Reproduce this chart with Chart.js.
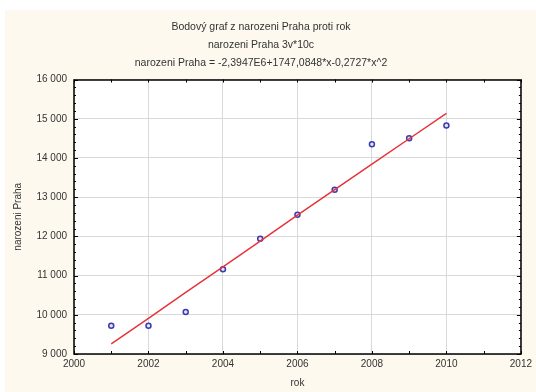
<!DOCTYPE html>
<html>
<head>
<meta charset="utf-8">
<script src="https://cdn.jsdelivr.net/npm/chart.js@4/dist/chart.umd.min.js"></script>
<style>
  html, body { margin: 0; padding: 0; background: #ffffff; }
  #wrap { width: 536px; height: 392px; }
</style>
</head>
<body>
<div id="wrap"><canvas id="chart" width="536" height="392"></canvas></div>
<script>
// data
const years = [2001, 2002, 2003, 2004, 2005, 2006, 2007, 2008, 2009, 2010];
const births = [9720, 9720, 10070, 11160, 11940, 12550, 13190, 14350, 14500, 14830];
const fitValues = [9256, 9910, 10570, 11220, 11880, 12540, 13190, 13840, 14490, 15135];

const titleLines = [
  "Bodový graf z narozeni Praha proti rok",
  "narozeni Praha 3v*10c",
  "narozeni Praha = -2,3947E6+1747,0848*x-0,2727*x^2"
];
const xLabel = "rok";
const yLabel = "narozeni Praha";

const FONT = "'Liberation Sans', Arial, sans-serif";
const CREAM = "#fdf9ee";

// pozadí: bílý okraj nahoře a vlevo, zbytek krémový
const background = {
  id: "background",
  beforeDraw(chart) {
    const c = chart.ctx;
    c.save();
    c.fillStyle = "#ffffff";
    c.fillRect(0, 0, chart.width, chart.height);
    c.fillStyle = CREAM;
    c.fillRect(5, 10, chart.width - 5, chart.height - 10);
    // bílá plocha grafu
    const a = chart.chartArea;
    c.fillStyle = "#ffffff";
    c.fillRect(a.left, a.top, a.right - a.left, a.bottom - a.top);
    c.restore();
  }
};

// rámeček + drobné značky dovnitř
const frame = {
  id: "frame",
  afterDatasetsDraw(chart) {
    const { ctx: c, chartArea: a, scales } = chart;
    const xs = scales.x, ys = scales.y;
    c.save();
    c.strokeStyle = "#000";
    c.lineWidth = 1;
    c.beginPath();
    for (let v = xs.min; v <= xs.max; v += 1) {
      const px = Math.round(xs.getPixelForValue(v)) + 0.5;
      c.moveTo(px, a.bottom); c.lineTo(px, a.bottom - 3);
      c.moveTo(px, a.top); c.lineTo(px, a.top + 3);
    }
    for (let v = ys.min; v <= ys.max; v += 200) {
      const py = Math.round(ys.getPixelForValue(v)) + 0.5;
      const len = v % 1000 === 0 ? 4 : 2;
      c.moveTo(a.left, py); c.lineTo(a.left + len, py);
      c.moveTo(a.right, py); c.lineTo(a.right - len, py);
    }
    c.stroke();
    c.lineWidth = 1.5;
    c.strokeRect(Math.round(a.left), Math.round(a.top), Math.round(a.right - a.left), Math.round(a.bottom - a.top));
    c.restore();
  }
};

new Chart(document.getElementById("chart"), {
  type: "scatter",
  data: {
    datasets: [
      {
        type: "line",
        data: years.map((x, i) => ({ x, y: fitValues[i] })),
        borderColor: "#e6343a",
        borderWidth: 1.5,
        pointRadius: 0,
        tension: 0,
        fill: false
      },
      {
        data: years.map((x, i) => ({ x, y: births[i] })),
        pointStyle: "circle",
        pointRadius: 2.5,
        borderColor: "#3b3bb0",
        backgroundColor: "#e4e4f6",
        borderWidth: 1.5
      }
    ]
  },
  plugins: [background, frame],
  options: {
    responsive: false,
    animation: false,
    layout: { padding: { left: 0, right: 14, top: 0, bottom: 0 } },
    plugins: {
      legend: { display: false },
      tooltip: { enabled: false },
      title: {
        display: true,
        text: titleLines,
        color: "#333",
        font: { family: FONT, size: 10.5, weight: "normal", lineHeight: 1.7 },
        padding: { top: 18, bottom: 8 }
      }
    },
    scales: {
      x: {
        type: "linear",
        min: 2000,
        max: 2012,
        afterFit: s => { s.height = 38; },
        ticks: { stepSize: 2, color: "#333", font: { family: FONT, size: 10 }, padding: 4,
                 callback: v => String(v) },
        grid: { color: "#d9d9d9", drawTicks: false },
        border: { display: false },
        title: { display: true, text: xLabel, color: "#333",
                 font: { family: FONT, size: 10 }, padding: { top: 0, bottom: 3 } }
      },
      y: {
        min: 9000,
        max: 16000,
        afterFit: s => { s.width = 74; },
        ticks: { stepSize: 1000, color: "#333", font: { family: FONT, size: 10 }, padding: 7,
                 callback: v => String(v).replace(/\B(?=(\d{3})+(?!\d))/g, " ") },
        grid: { color: "#d9d9d9", drawTicks: false },
        border: { display: false },
        title: { display: true, text: yLabel, color: "#333",
                 font: { family: FONT, size: 10 }, padding: { top: 12, bottom: 0 } }
      }
    }
  }
});
</script>
</body>
</html>
